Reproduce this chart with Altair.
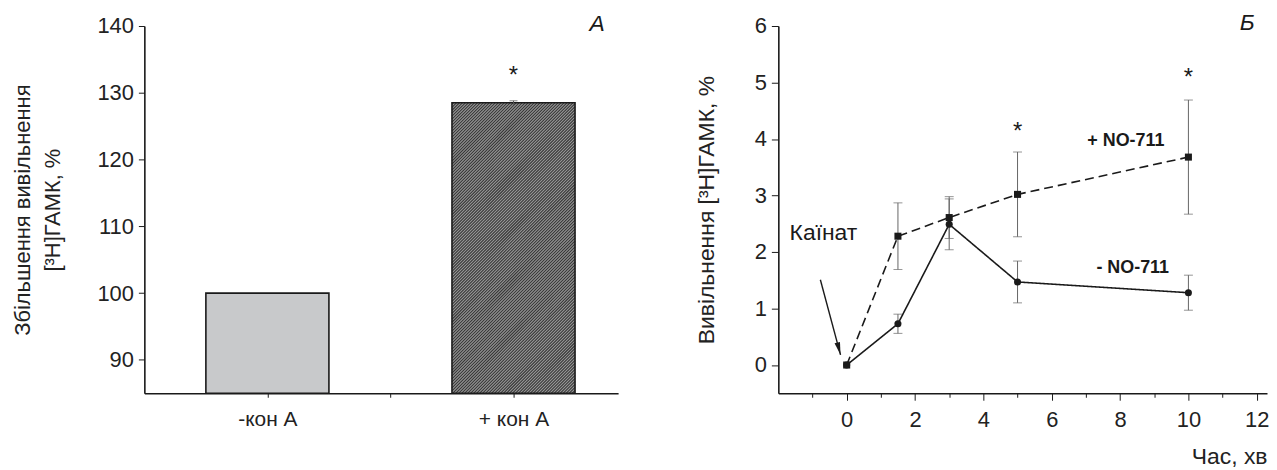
import altair as alt
import pandas as pd

# ---------------- data ----------------
# Panel A
bar_categories = ["-кон А", "+ кон А"]
bar_values = [100.0, 128.5]
bar_errors = [0.0, 0.3]
bar_star_value = [None, 132.9]

# Panel Б
time_points = [0, 1.5, 3, 5, 10]
minus_no711 = [0.0, 0.73, 2.49, 1.47, 1.28]
minus_no711_err = [0.0, 0.17, 0.45, 0.37, 0.31]
plus_no711 = [0.0, 2.28, 2.61, 3.02, 3.68]
plus_no711_err = [0.0, 0.59, 0.37, 0.75, 1.01]
series_names = ["- NO-711", "+ NO-711"]
time_ticks_major = [0, 2, 4, 6, 8, 10, 12]
time_ticks_minor = [-1, 1, 3, 5, 7, 9, 11]

star_time = [5, 10]
star_level = [4.17, 5.13]

series_label_text = ["+ NO-711", "- NO-711"]
series_label_t = [8.17, 8.37]
series_label_y = [3.97, 1.72]

kainate_text = ["Каїнат"]
kainate_t = [-0.68]
kainate_y = [2.34]
arrow_from = (-0.77, 1.51)
arrow_to = (-0.18, 0.18)

FONT = "Liberation Sans, Arial, sans-serif"
BLACK = "#1a1a1a"

# ---------------- panel A ----------------
WA, HA = 476, 369
XA_DOMAIN = [0, 3.85]
YA_DOMAIN = [85, 140]
YA_BASE = YA_DOMAIN[0]

dfA = pd.DataFrame({
    "cat": bar_categories,
    "val": bar_values,
    "err": bar_errors,
    "idx": list(range(len(bar_categories))),
})
dfA["pos"] = dfA["idx"] * 2 + 1
dfA["lo"] = dfA["pos"] - 0.5
dfA["hi"] = dfA["pos"] + 0.5
dfA["elo"] = dfA["val"] - dfA["err"]
dfA["ehi"] = dfA["val"] + dfA["err"]
dfA["star"] = bar_star_value

# diagonal hatch for the second bar (45 degree lines, derived from the bar's extent)
px_x = WA / (XA_DOMAIN[1] - XA_DOMAIN[0])
px_y = HA / (YA_DOMAIN[1] - YA_DOMAIN[0])
slope = px_x / px_y
pitch = 3.0 / px_x * slope
hb = dfA.iloc[1]
hatch_rows = []
c = YA_BASE - slope
while c < hb["val"]:
    xs = max(hb["lo"], hb["lo"] + (YA_BASE - c) / slope)
    xe = min(hb["hi"], hb["lo"] + (hb["val"] - c) / slope)
    if xe > xs:
        hatch_rows.append({"x": xs, "y": c + slope * (xs - hb["lo"]),
                           "x2": xe, "y2": c + slope * (xe - hb["lo"])})
    c += pitch
dfH = pd.DataFrame(hatch_rows)

xA_scale = alt.Scale(domain=XA_DOMAIN, nice=False, zero=False)
yA_scale = alt.Scale(domain=YA_DOMAIN, nice=False, zero=False)

label_expr_x = " : ".join(
    [f"datum.value == {2*i+1} ? '{c}'" for i, c in enumerate(bar_categories)]
) + " : ''"

xA_axis = alt.Axis(values=[1, 2, 3], labelExpr=label_expr_x, title=None,
                   tickSize=4, labelFontSize=21, labelPadding=11,
                   labelOverlap=False, domainWidth=1.6, tickWidth=1)
yA_axis = alt.Axis(values=list(range(90, 141, 5)),
                   labelExpr="datum.value % 10 == 0 ? format(datum.value, 'd') : ''",
                   tickSize={"condition": {"test": "datum.value % 10 == 0", "value": 6}, "value": 3},
                   title=["Збільшення вивільнення", "[³H]ГАМК, %"],
                   titlePadding=33, titleFontSize=22, titleLineHeight=30, labelPadding=5,
                   labelFontSize=22, labelOverlap=False,
                   domainWidth=1.6)

baseA = alt.Chart(dfA)
barA1 = baseA.transform_filter("datum.idx == 0").mark_bar(
    fill="#c8c9cb", stroke=BLACK, strokeWidth=1.6
).encode(
    x=alt.X("lo:Q", scale=xA_scale, axis=xA_axis),
    x2="hi:Q",
    y=alt.Y("val:Q", scale=yA_scale, axis=yA_axis),
    y2=alt.datum(YA_BASE),
)
barA2 = baseA.transform_filter("datum.idx == 1").mark_bar(
    fill="#9c9c9c", strokeWidth=0
).encode(x="lo:Q", x2="hi:Q", y="val:Q", y2=alt.datum(YA_BASE))
hatchA = alt.Chart(dfH).mark_rule(color="#363636", strokeWidth=1.1).encode(
    x="x:Q", y="y:Q", x2="x2:Q", y2="y2:Q")
barA2o = baseA.transform_filter("datum.idx == 1").mark_bar(
    fillOpacity=0, stroke=BLACK, strokeWidth=1.6
).encode(x="lo:Q", x2="hi:Q", y="val:Q", y2=alt.datum(YA_BASE))
errA = baseA.transform_filter("datum.err > 0").mark_rule(color="#555", strokeWidth=1).encode(
    x="pos:Q", y="elo:Q", y2="ehi:Q")
capA = baseA.transform_filter("datum.err > 0").mark_tick(
    orient="horizontal", size=8, thickness=1, color="#555").encode(x="pos:Q", y="ehi:Q")
starA = baseA.transform_filter("isValid(datum.star)").mark_text(
    text="*", fontSize=24, font=FONT, color=BLACK, baseline="middle", dy=3
).encode(x="pos:Q", y="star:Q")
letterA = alt.Chart(pd.DataFrame({"t": ["А"], "x": [3.68], "y": [140.3]})).mark_text(
    fontSize=23, font=FONT, fontStyle="italic", color=BLACK, baseline="middle"
).encode(x="x:Q", y="y:Q", text="t:N")

chartA = alt.layer(barA1, barA2, hatchA, barA2o, errA, capA, starA, letterA).properties(
    width=WA, height=HA)

# ---------------- panel Б ----------------
rows = []
for name, vals, errs in [(series_names[0], minus_no711, minus_no711_err),
                         (series_names[1], plus_no711, plus_no711_err)]:
    for t, v, e in zip(time_points, vals, errs):
        rows.append({"series": name, "t": t, "v": v, "err": e, "lo": v - e, "hi": v + e})
dfB = pd.DataFrame(rows)

xB_scale = alt.Scale(domain=[-2, 12.3], nice=False, zero=False)
yB_scale = alt.Scale(domain=[-0.5, 6], nice=False, zero=False)

xB_axis = alt.Axis(values=time_ticks_major, format="d", tickSize=7,
                   title="Час, хв", titleAnchor="end", titleAlign="right", titlePadding=16,
                   titleFontSize=23, labelFontSize=22,
                   labelPadding=9, labelOverlap=False, labelFlush=False, domainWidth=1.6)
yB_axis = alt.Axis(values=[i / 2 for i in range(0, 13)],
                   labelExpr="datum.value % 1 == 0 ? format(datum.value, 'd') : ''",
                   tickSize={"condition": {"test": "datum.value % 1 == 0", "value": 7}, "value": 4},
                   title="Вивільнення [³H]ГАМК, %", titlePadding=36, titleFontSize=23,
                   labelFontSize=22, labelOverlap=False,
                   labelPadding=5, domainWidth=1.6)

def tx(field):
    return alt.X(field, axis=None)

baseB = alt.Chart(dfB)
dash_scale = alt.Scale(domain=series_names, range=[[1, 0], [9, 5]])
shape_scale = alt.Scale(domain=series_names, range=["circle", "square"])

errB = baseB.transform_filter("datum.err > 0").mark_rule(color="#666", strokeWidth=1).encode(
    x=alt.X("t:Q", scale=xB_scale, axis=xB_axis),
    y=alt.Y("lo:Q", scale=yB_scale, axis=yB_axis),
    y2="hi:Q")
capB1 = baseB.transform_filter("datum.err > 0").mark_tick(
    orient="horizontal", size=9, thickness=1, color="#666").encode(x=tx("t:Q"), y="lo:Q")
capB2 = baseB.transform_filter("datum.err > 0").mark_tick(
    orient="horizontal", size=9, thickness=1, color="#666").encode(x=tx("t:Q"), y="hi:Q")
lineB = baseB.mark_line(color=BLACK, strokeWidth=1.6).encode(
    x=tx("t:Q"), y="v:Q",
    strokeDash=alt.StrokeDash("series:N", scale=dash_scale, legend=None),
    detail="series:N")
pointB = baseB.mark_point(filled=True, color=BLACK, opacity=1, size=50).encode(
    x=tx("t:Q"), y="v:Q", shape=alt.Shape("series:N", scale=shape_scale, legend=None))

starB = alt.Chart(pd.DataFrame({"t": star_time, "y": star_level})).mark_text(
    text="*", fontSize=24, font=FONT, color=BLACK, baseline="middle", dy=3
).encode(x=tx("t:Q"), y="y:Q")
labelsB = alt.Chart(pd.DataFrame({"txt": series_label_text, "t": series_label_t, "y": series_label_y})).mark_text(
    fontSize=18, font=FONT, fontWeight="bold", color=BLACK, baseline="middle"
).encode(x=tx("t:Q"), y="y:Q", text="txt:N")
kainB = alt.Chart(pd.DataFrame({"txt": kainate_text, "t": kainate_t, "y": kainate_y})).mark_text(
    fontSize=23, font=FONT, color=BLACK, baseline="middle"
).encode(x=tx("t:Q"), y="y:Q", text="txt:N")
arrow_df = pd.DataFrame({"t": [arrow_from[0]], "y": [arrow_from[1]],
                         "t2": [arrow_to[0]], "y2": [arrow_to[1]]})
arrowLine = alt.Chart(arrow_df).mark_rule(color=BLACK, strokeWidth=1.4).encode(
    x=tx("t:Q"), y="y:Q", x2="t2:Q", y2="y2:Q")
arrowHead = alt.Chart(arrow_df).mark_point(
    shape="M-0.4,-1.8L0,0L0.4,-1.8Z", filled=True, color=BLACK, opacity=1, size=200, angle=345
).encode(x=tx("t2:Q"), y="y2:Q")
letterB = alt.Chart(pd.DataFrame({"t": ["Б"], "x": [11.72], "y": [6.06]})).mark_text(
    fontSize=23, font=FONT, fontStyle="italic", color=BLACK, baseline="middle"
).encode(x=tx("x:Q"), y="y:Q", text="t:N")

# minor time ticks: a second bottom axis on the same scale, ticks only
minorB = alt.Chart(pd.DataFrame({"t": time_ticks_minor})).mark_point(opacity=0).encode(
    x=alt.X("t:Q", scale=xB_scale,
            axis=alt.Axis(values=time_ticks_minor, orient="bottom", labels=False, domain=False,
                          tickSize=4, title=None)),
    y=alt.value(0))

chartB = alt.layer(errB, capB1, capB2, lineB, pointB, starB, labelsB, kainB,
                   arrowLine, arrowHead, letterB, minorB).resolve_axis(x="independent").properties(
    width=491, height=369)

chart = alt.hconcat(chartA, chartB, spacing=77).properties(
    padding={"left": 3, "top": 2, "right": 0, "bottom": 0}
).configure_view(stroke=None).configure_axis(
    grid=False, domainColor=BLACK, tickColor=BLACK, labelColor="#222", titleColor="#222",
    labelFont=FONT, titleFont=FONT, titleFontWeight="normal",
)

chart.save("out.html", embed_options={"renderer": "svg", "actions": False})
